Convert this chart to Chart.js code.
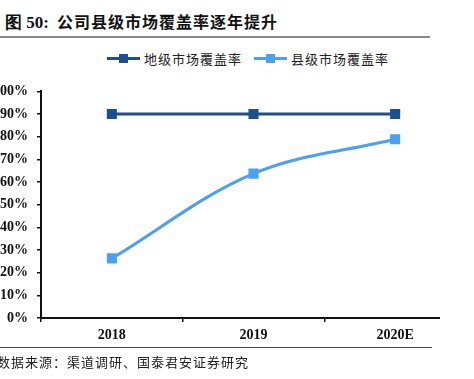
<!DOCTYPE html>
<html>
<head>
<meta charset="utf-8">
<script src="https://cdn.jsdelivr.net/npm/chart.js@4.4.0/dist/chart.umd.min.js"></script>
<style>
  body { margin: 0; width: 474px; height: 379px; background: #fff; overflow: hidden; position: relative; font-family: "Noto Sans CJK SC", sans-serif; }
  #title { position: absolute; left: 5px; top: 9px; font-size: 16px; font-weight: bold; color: #111; white-space: nowrap; letter-spacing: 1px; }
  #title .num { font-family: "Liberation Serif", serif; font-size: 17px; margin-right: 8px; letter-spacing: 0; }
  #rule { position: absolute; left: 0; top: 36px; width: 430px; height: 2px; background: #8a8a8a; }
  #legend { position: absolute; top: 45px; left: 107px; font-size: 13px; color: #222; white-space: nowrap; letter-spacing: 1px; }
  .item { display: inline-flex; align-items: center; margin-right: 12px; }
  .sw { position: relative; width: 33px; height: 3px; margin-right: 4px; }
  .sw i { position: absolute; left: 12px; top: -3px; width: 9px; height: 9px; }
  #wrap { position: absolute; left: 0; top: 74px; width: 474px; height: 276px; }
  #bottomRule { position: absolute; left: 0; top: 347px; width: 432px; height: 1px; background: #444; }
  #source { position: absolute; left: -3px; top: 352px; font-size: 13px; color: #222; white-space: nowrap; letter-spacing: 1px; }
</style>
</head>
<body>
<div id="title"><span class="num">图 50:</span>公司县级市场覆盖率逐年提升</div>
<div id="rule"></div>
<div id="legend"></div>
<div id="wrap"><canvas id="chart"></canvas></div>
<div id="bottomRule"></div>
<div id="source">数据来源：渠道调研、国泰君安证券研究</div>

<script>
const categories = ["2018", "2019", "2020E"];
const prefectureCoverage = [90, 90, 90];
const countyCoverage = [26.3, 63.7, 78.9];
const yTicks = [0, 10, 20, 30, 40, 50, 60, 70, 80, 90, 100];

const seriesNames = ["地级市场覆盖率", "县级市场覆盖率"];
const seriesColors = ["#1b4f91", "#4aa0f2"];

// legend as html, line with square marker like the original
const legend = document.getElementById("legend");
seriesNames.forEach((name, i) => {
  const item = document.createElement("span");
  item.className = "item";
  item.innerHTML = `<span class="sw" style="background:${seriesColors[i]}"><i style="background:${seriesColors[i]}"></i></span>${name}`;
  legend.appendChild(item);
});

// x axis line stops short of the right edge in the reference
const axisLine = {
  id: "axisLine",
  afterDraw(chart) {
    const { ctx, chartArea } = chart;
    ctx.save();
    ctx.strokeStyle = "#111";
    ctx.lineWidth = 2;
    ctx.beginPath();
    ctx.moveTo(chartArea.left - 1, chartArea.bottom);
    ctx.lineTo(440, chartArea.bottom);
    ctx.stroke();
    ctx.restore();
  }
};

new Chart(document.getElementById("chart"), {
  type: "line",
  data: {
    labels: categories,
    datasets: [
      {
        label: seriesNames[0],
        data: prefectureCoverage,
        borderColor: seriesColors[0],
        backgroundColor: seriesColors[0],
        borderWidth: 3,
        pointStyle: "rect",
        pointRadius: 5,
        tension: 0
      },
      {
        label: seriesNames[1],
        data: countyCoverage,
        borderColor: seriesColors[1],
        backgroundColor: seriesColors[1],
        borderWidth: 3,
        pointStyle: "rect",
        pointRadius: 5,
        tension: 0.35
      }
    ]
  },
  options: {
    responsive: true,
    maintainAspectRatio: false,
    animation: false,
    layout: { padding: { top: 5, right: 8, left: 0, bottom: 0 } },
    plugins: { legend: { display: false }, tooltip: { enabled: false } },
    scales: {
      x: {
        offset: true,
        afterFit: s => { s.height = 32; },
        grid: {
          offset: true,
          drawOnChartArea: false,
          tickLength: 4,
          // only boundary ticks that belong to a category; skip the trailing one
          color: c => (c.type === "tick" ? "#111" : "rgba(0,0,0,0)"),
          lineWidth: 1.5
        },
        border: { display: false },
        ticks: { color: "#111", padding: 5, font: { family: "Liberation Serif", size: 14, weight: "bold" } }
      },
      y: {
        min: 0,
        max: 100,
        afterFit: s => { s.width = 41; },
        afterBuildTicks: s => { s.ticks = yTicks.map(v => ({ value: v })); },
        grid: { drawOnChartArea: false, tickLength: 4, color: "#111", lineWidth: 1.5 },
        border: { color: "#111", width: 2 },
        ticks: {
          color: "#111",
          padding: 9,
          font: { family: "Liberation Serif", size: 14, weight: "bold" },
          callback: v => v + "%"
        }
      }
    }
  },
  plugins: [axisLine]
});
</script>
</body>
</html>
